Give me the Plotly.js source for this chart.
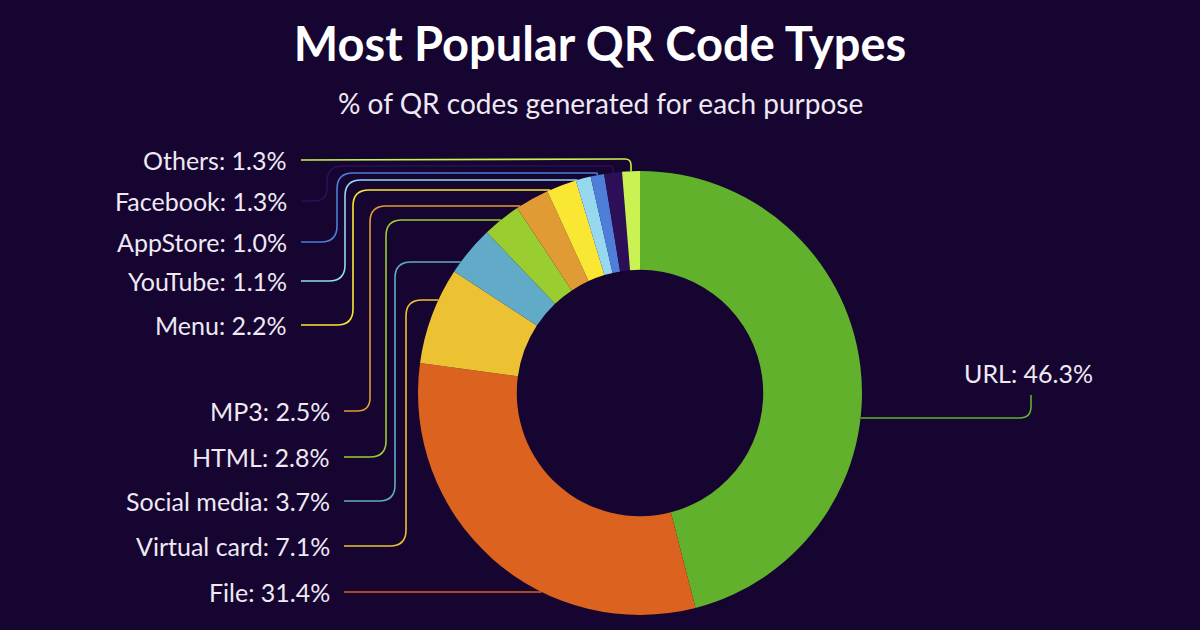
<!DOCTYPE html>
<html>
<head>
<meta charset="utf-8">
<script src="https://cdn.plot.ly/plotly-3.0.1.min.js"></script>
<style>
  html, body { margin: 0; padding: 0; background: #160431; }
  #qr-donut { width: 1200px; height: 630px; }
</style>
</head>
<body>
<div id="qr-donut"></div>
<script>
// data, clockwise from 12 o'clock
const types = ['URL', 'File', 'Virtual card', 'Social media', 'HTML', 'MP3', 'Menu', 'YouTube', 'AppStore', 'Facebook', 'Others']
const shares = [46.3, 31.4, 7.1, 3.7, 2.8, 2.5, 2.2, 1.1, 1.0, 1.3, 1.3]
const colors = ['#62b12d', '#dc6220', '#ecc232', '#62abc8', '#9acd2f', '#e09b35', '#fae734', '#95d8f0', '#4e7ed8', '#2c0f57', '#c9f252']

// label placement in page pixels (layout only)
const labelY = [373, 592, 546, 501, 457, 411, 325, 281, 242, 201, 160]
const labelRight = [1028, 332, 332, 332, 332, 332, 289, 289, 289, 289, 289]
const lineColumn = [null, null, 406, 395, 386, 370, 353, 345, 337, 327, null]
const lineLevel = [418, 592, 300, 262, 220, 206, 190, 180, 173, 166, 159]

const W = 1200, H = 630
const cx = 640, cy = 393, R = 222

const total = shares.reduce((a, b) => a + b, 0)
let cum = 0
const slices = shares.map(v => {
  const s = cum / total
  cum += v
  return { s, e: cum / total }
})

const pt = frac => {
  const a = frac * 2 * Math.PI
  return [cx + R * Math.sin(a), cy - R * Math.cos(a)]
}

// where a horizontal line at y meets the outer edge, if inside the slice
const hitAt = (i, y, side) => {
  const dy = y - cy
  if (Math.abs(dy) >= R) { return null }
  const dx = side * Math.sqrt(R * R - dy * dy)
  let a = Math.atan2(dx, -dy)
  if (a < 0) { a += 2 * Math.PI }
  const f = a / (2 * Math.PI)
  return f >= slices[i].s && f <= slices[i].e ? [cx + dx, y] : null
}

const roundedPath = (raw, r) => {
  const pts = raw.filter((p, i) => i === 0 || Math.hypot(p[0] - raw[i-1][0], p[1] - raw[i-1][1]) > 0.5)
  let d = `M${pts[0][0]},${pts[0][1]}`
  for (let i = 1; i < pts.length - 1; i++) {
    const [p, c, n] = [pts[i-1], pts[i], pts[i+1]]
    const l1 = Math.hypot(c[0] - p[0], c[1] - p[1])
    const l2 = Math.hypot(n[0] - c[0], n[1] - c[1])
    const rr = Math.min(r, l1 / 2, l2 / 2)
    const a = [c[0] - (c[0] - p[0]) / l1 * rr, c[1] - (c[1] - p[1]) / l1 * rr]
    const b = [c[0] + (n[0] - c[0]) / l2 * rr, c[1] + (n[1] - c[1]) / l2 * rr]
    d += ` L${a[0]},${a[1]} Q${c[0]},${c[1]} ${b[0]},${b[1]}`
  }
  const last = pts[pts.length - 1]
  return d + ` L${last[0]},${last[1]}`
}

const shapes = types.map((t, i) => {
  let pts
  if (i === 0) {
    // URL sits on the right, line runs under the label
    const hit = hitAt(i, lineLevel[i], 1) || pt((slices[i].s + slices[i].e) / 2)
    pts = [hit, [labelRight[i] + 3, lineLevel[i]], [labelRight[i] + 3, labelY[i] + 22]]
  } else {
    const start = [labelRight[i] + 12, labelY[i]]
    pts = [start]
    if (lineColumn[i] !== null) {
      pts.push([lineColumn[i], labelY[i]], [lineColumn[i], lineLevel[i]])
    }
    const hit = hitAt(i, lineLevel[i], -1)
    if (hit) {
      pts.push(hit)
    } else {
      const mid = pt((slices[i].s + slices[i].e) / 2)
      pts.push([mid[0], lineLevel[i]], mid)
    }
  }
  return {
    type: 'path',
    xref: 'x', yref: 'y',
    path: roundedPath(pts, 16),
    line: { color: colors[i], width: 1.6 },
    layer: 'below',
  }
})

const annotations = types.map((t, i) => ({
  xref: 'x', yref: 'y',
  x: labelRight[i],
  y: labelY[i],
  text: `${t}: ${shares[i].toFixed(1)}%`,
  showarrow: false,
  xanchor: i === 0 ? 'center' : 'right',
  yanchor: 'middle',
  font: { family: 'Lato', size: 25, color: '#eee9f3' },
}))

annotations.push({
  xref: 'paper', yref: 'paper',
  x: 0.5, y: 1 - 103 / H,
  text: '% of QR codes generated for each purpose',
  showarrow: false,
  xanchor: 'center', yanchor: 'middle',
  font: { family: 'Lato', size: 28, color: '#eee9f3' },
})

const data = [{
  type: 'pie',
  values: shares,
  labels: types,
  marker: { colors, line: { width: 0 } },
  hole: 0.555,
  sort: false,
  direction: 'clockwise',
  rotation: 0,
  textinfo: 'none',
  hoverinfo: 'label+percent',
  showlegend: false,
  domain: {
    x: [(cx - R) / W, (cx + R) / W],
    y: [1 - (cy + R) / H, 1 - (cy - R) / H],
  },
}]

const layout = {
  width: W,
  height: H,
  margin: { l: 0, r: 0, t: 0, b: 0 },
  paper_bgcolor: '#160431',
  plot_bgcolor: 'rgba(0,0,0,0)',
  title: {
    text: '<b>Most Popular QR Code Types</b>',
    x: 0.5, xanchor: 'center',
    y: 1 - 45 / H, yref: 'container', yanchor: 'middle',
    font: { family: 'Lato', size: 47, color: '#ffffff' },
  },
  xaxis: { range: [0, W], visible: false, fixedrange: true },
  yaxis: { range: [H, 0], visible: false, fixedrange: true },
  shapes,
  annotations,
}

Plotly.newPlot('qr-donut', data, layout, { displayModeBar: false, staticPlot: true })
</script>
</body>
</html>
